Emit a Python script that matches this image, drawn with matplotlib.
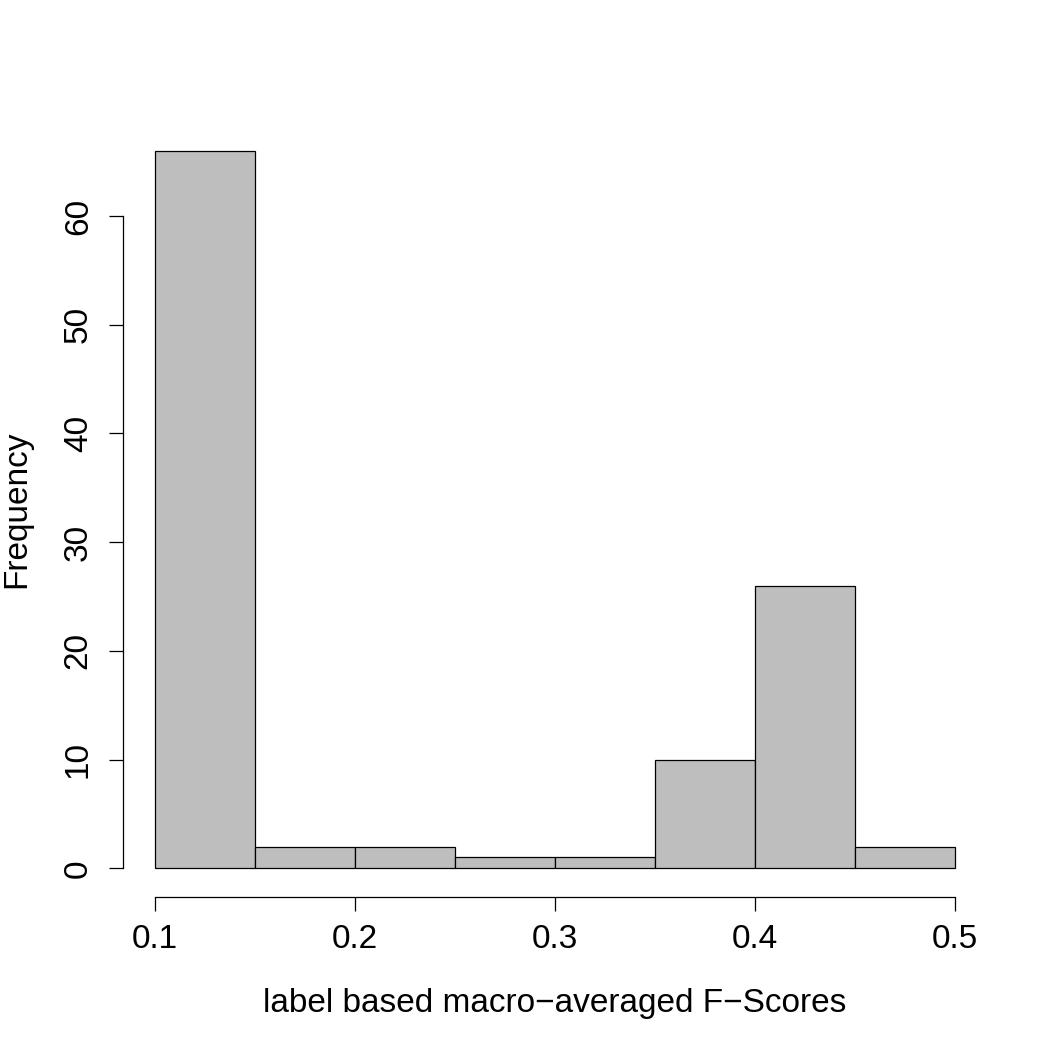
import matplotlib
matplotlib.use("Agg")
import matplotlib.pyplot as plt
import numpy as np

bin_edges = [0.10, 0.15, 0.20, 0.25, 0.30, 0.35, 0.40, 0.45, 0.50]
counts = [66, 2, 2, 1, 1, 10, 26, 2]
x_ticks = [0.1, 0.2, 0.3, 0.4, 0.5]
x_tick_labels = ["0.1", "0.2", "0.3", "0.4", "0.5"]
y_ticks = [0, 10, 20, 30, 40, 50, 60]
xlabel = "label based macro\u2212averaged F\u2212Scores"
ylabel = "Frequency"

plt.rcParams['font.family'] = ['Liberation Sans', 'DejaVu Sans']

fig = plt.figure(figsize=(10.5, 10.5), dpi=100)
W = H = 1050
ax = fig.add_axes([123 / W, 153 / H, (987 - 123) / W, (928 - 153) / H])

edges = np.array(bin_edges)
ax.bar(edges[:-1], counts, width=np.diff(edges), align='edge',
       color='#BEBEBE', edgecolor='black', linewidth=0.9)

xr = edges[-1] - edges[0]
ax.set_xlim(edges[0] - 0.04 * xr, edges[-1] + 0.04 * xr)
yr = max(counts)
ax.set_ylim(-0.04 * yr, yr * 1.04)

for s in ['top', 'right']:
    ax.spines[s].set_visible(False)
ax.spines['left'].set_bounds(0, 60)
ax.spines['bottom'].set_bounds(0.1, 0.5)
ax.spines['left'].set_linewidth(0.9)
ax.spines['bottom'].set_linewidth(0.9)

ax.set_xticks(x_ticks)
ax.set_xticklabels(x_tick_labels)
ax.set_yticks(y_ticks)
ax.set_yticklabels([str(v) for v in y_ticks], rotation=90, va='center')
ax.tick_params(axis='both', direction='out', length=10, width=0.9,
               labelsize=24, colors='black')
ax.tick_params(axis='x', pad=9.5)
ax.tick_params(axis='y', pad=11)

ax.set_xlabel(xlabel, fontsize=24, labelpad=24)
ax.set_ylabel(ylabel, fontsize=24, labelpad=22)

fig.savefig("out.png", dpi=100)
